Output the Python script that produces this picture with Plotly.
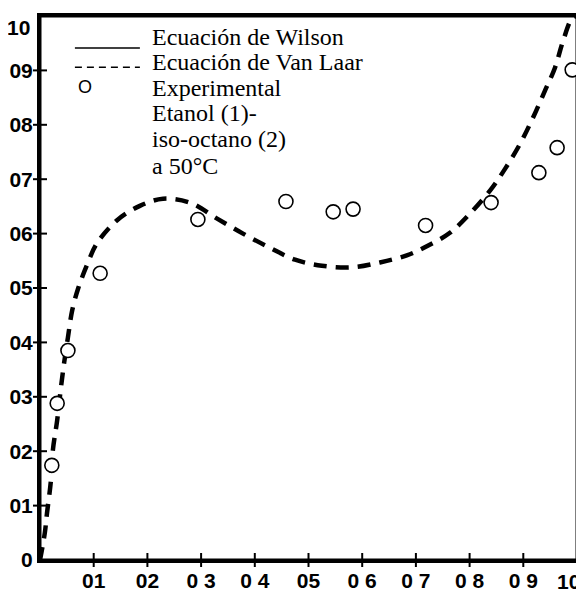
import plotly.graph_objects as go

# Van Laar curve (dashed)
vl_x = [0, 0.009, 0.013, 0.020, 0.024, 0.032, 0.039, 0.045, 0.052, 0.060, 0.071, 0.087,
        0.106, 0.143, 0.186, 0.229, 0.279, 0.329, 0.378, 0.428, 0.475, 0.525, 0.581,
        0.633, 0.683, 0.723, 0.764, 0.801, 0.838, 0.866, 0.894, 0.918, 0.940, 0.959,
        0.974, 0.991, 1.0]
vl_y = [0, 0.050, 0.086, 0.143, 0.202, 0.257, 0.317, 0.363, 0.409, 0.459, 0.499, 0.541,
        0.582, 0.624, 0.651, 0.664, 0.657, 0.628, 0.600, 0.574, 0.552, 0.541, 0.538,
        0.547, 0.560, 0.578, 0.602, 0.637, 0.679, 0.719, 0.765, 0.813, 0.862, 0.905,
        0.954, 0.996, 1.0]

# Experimental points
exp_x = [0.022, 0.032, 0.052, 0.112, 0.294, 0.458, 0.546, 0.583, 0.718, 0.840, 0.929, 0.963, 0.991]
exp_y = [0.174, 0.288, 0.385, 0.527, 0.626, 0.659, 0.640, 0.645, 0.615, 0.657, 0.712, 0.758, 0.901]

x_tickvals = [0.1, 0.2, 0.3, 0.4, 0.5, 0.6, 0.7, 0.8, 0.9, 1.0]
x_ticktext = ["01", "02", "0 3", "0 4", "05", "0 6", "0 7", "0 8", "0 9", "10"]
y_tickvals = [0, 0.1, 0.2, 0.3, 0.4, 0.5, 0.6, 0.7, 0.8, 0.9, 1.0]
y_ticktext = ["0", "01", "02", "03", "04", "05", "06", "07", "08", "09", "10"]

legend_lines = ["Ecuación de Wilson", "Ecuación de Van Laar", "Experimental",
                "Etanol (1)-", "iso-octano (2)", "a 50°C"]

x_range = [0, 1]
y_range = [0, 1]

fig = go.Figure()
# plot frame (box around the axes range)
fig.add_trace(go.Scatter(x=[x_range[0], x_range[1], x_range[1], x_range[0], x_range[0]],
                         y=[y_range[0], y_range[0], y_range[1], y_range[1], y_range[0]],
                         mode="lines", line=dict(color="black", width=3),
                         cliponaxis=False, showlegend=False, hoverinfo="skip"))
fig.add_trace(go.Scatter(x=vl_x, y=vl_y, mode="lines", line_shape="spline",
                         line=dict(color="black", width=4.5, dash="13px,9px"),
                         showlegend=False, hoverinfo="skip"))
fig.add_trace(go.Scatter(x=exp_x, y=exp_y, mode="markers",
                         marker=dict(symbol="circle", size=14, color="white",
                                     line=dict(color="black", width=1.6)),
                         showlegend=False, hoverinfo="skip"))
# crossing tick marks on the axes (positions from the tick arrays)
fig.add_trace(go.Scatter(x=x_tickvals[:-1], y=[0] * (len(x_tickvals) - 1), mode="markers",
                         marker=dict(symbol="line-ns", size=10, line=dict(color="black", width=2)),
                         cliponaxis=False, showlegend=False, hoverinfo="skip"))
fig.add_trace(go.Scatter(x=[0] * (len(y_tickvals) - 2), y=y_tickvals[1:-1], mode="markers",
                         marker=dict(symbol="line-ew", size=10, line=dict(color="black", width=2)),
                         cliponaxis=False, showlegend=False, hoverinfo="skip"))

tickfont = dict(family="Liberation Sans", size=21, color="black", weight="bold")
fig.update_layout(
    template="none",
    width=576, height=588,
    margin=dict(l=32, r=7, t=8, b=36),
    paper_bgcolor="white", plot_bgcolor="white",
    xaxis=dict(range=x_range, tickvals=x_tickvals[:-1], ticktext=x_ticktext[:-1],
               automargin=False, showgrid=False, zeroline=False, showline=True,
               linecolor="black", linewidth=3, mirror=True, ticks="",
               tickfont=tickfont),
    yaxis=dict(range=y_range, tickvals=y_tickvals[:-1], ticktext=y_ticktext[:-1],
               automargin=False, showgrid=False, zeroline=False, showline=True,
               linecolor="black", linewidth=3, mirror=True, ticks="",
               tickfont=tickfont),
)

# end labels kept inside the page (as in the reference, offset from the corner)
fig.add_annotation(text=x_ticktext[-1], xref="x", yref="paper", x=x_tickvals[-1], y=0,
                   xanchor="center", yanchor="middle", xshift=-9, yshift=-21,
                   showarrow=False, font=tickfont)
fig.add_annotation(text=y_ticktext[-1], xref="paper", yref="y", x=0, y=y_tickvals[-1],
                   xanchor="right", yanchor="middle", xshift=-8, yshift=-11,
                   showarrow=False, font=tickfont)

# legend drawn as layout decorations
fig.add_shape(type="line", xref="paper", yref="paper", x0=0.065, x1=0.186, y0=0.941, y1=0.941,
              line=dict(color="black", width=1.5))
fig.add_shape(type="line", xref="paper", yref="paper", x0=0.065, x1=0.186, y0=0.906, y1=0.906,
              line=dict(color="black", width=1.5, dash="7px,5px"))
fig.add_annotation(text="O", xref="paper", yref="paper", x=0.083, y=0.869, showarrow=False,
                   xanchor="center", yanchor="middle",
                   font=dict(family="Liberation Sans", size=18, color="black"))

ys = [0.961, 0.916, 0.868, 0.821, 0.773, 0.725]
for t, yy in zip(legend_lines, ys):
    fig.add_annotation(text=t, xref="paper", yref="paper", x=0.204, y=yy, showarrow=False,
                       xanchor="left", yanchor="middle",
                       font=dict(family="Liberation Serif", size=24, color="black"))

fig.write_html("out.html")
